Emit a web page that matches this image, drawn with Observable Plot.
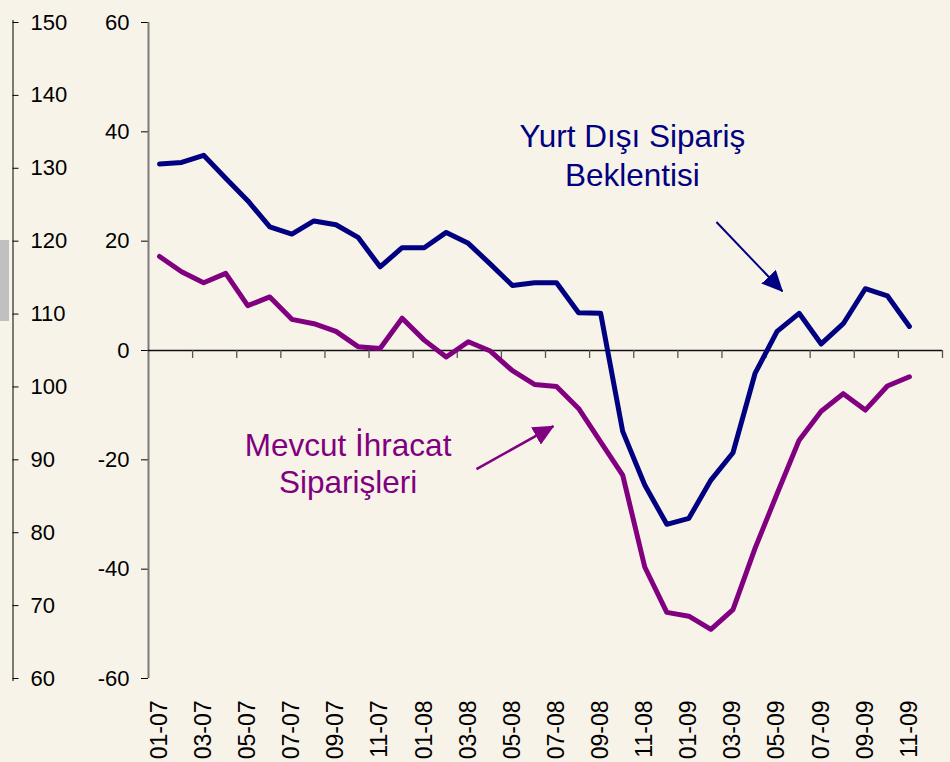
<!DOCTYPE html>
<html>
<head>
<meta charset="utf-8">
<script src="https://cdn.jsdelivr.net/npm/d3@7"></script>
<script src="https://cdn.jsdelivr.net/npm/@observablehq/plot@0.6"></script>
<style>
html, body { margin: 0; padding: 0; background: #f8f3e8; }
#wrap { position: relative; width: 950px; height: 762px; background: #f8f3e8; }
#grayTab { position: absolute; left: 0; top: 240px; width: 9px; height: 81px; background: #c0c0c0; }
#chart svg { display: block; }
</style>
</head>
<body>
<div id="wrap"><div id="grayTab"></div><div id="chart"></div></div>
<script>
// ---- data ----
const months = [
  "01-07","02-07","03-07","04-07","05-07","06-07","07-07","08-07","09-07","10-07","11-07","12-07",
  "01-08","02-08","03-08","04-08","05-08","06-08","07-08","08-08","09-08","10-08","11-08","12-08",
  "01-09","02-09","03-09","04-09","05-09","06-09","07-09","08-09","09-09","10-09","11-09","12-09"
];
const yurtDisiSiparisBeklentisi = [
  34.1, 34.4, 35.7, 31.5, 27.4, 22.6, 21.3, 23.7, 23.0, 20.7, 15.3, 18.8,
  18.8, 21.6, 19.6, 15.8, 11.9, 12.4, 12.4, 6.9, 6.8, -14.8, -24.6, -31.8,
  -30.7, -23.7, -18.7, -4.2, 3.5, 6.8, 1.2, 4.9, 11.3, 10.0, 4.4
];
const mevcutIhracatSiparisleri = [
  17.2, 14.4, 12.4, 14.1, 8.2, 9.8, 5.7, 4.9, 3.5, 0.7, 0.35, 5.9,
  1.9, -1.2, 1.6, -0.1, -3.7, -6.2, -6.6, -10.6, -16.7, -22.8, -39.6, -47.9,
  -48.6, -51.0, -47.4, -36.2, -26.2, -16.4, -11.1, -7.9, -10.9, -6.5, -4.8
];
const innerTicks = [-60, -40, -20, 0, 20, 40, 60];
const outerTicks = [60, 70, 80, 90, 100, 110, 120, 130, 140, 150];
const labelIndex = d3.range(0, months.length, 2);          // every second month labelled
const tickBoundaries = d3.range(1.5, months.length, 2);    // tick marks between category pairs

// annotations (data coordinates: month index, value)
const noteYurt = {text: "Yurt Dışı Sipariş\nBeklentisi", x: 21.44, y: 36.0};
const noteMevcut = {text: "Mevcut İhracat\nSiparişleri", x: 8.55, y: -20.5};
const arrowYurt = {x1: 25.25, y1: 23.5, x2: 28.24, y2: 10.85};
const arrowMevcut = {x1: 14.37, y1: -21.7, x2: 17.86, y2: -13.85};

// ---- build ----
const data = yurtDisiSiparisBeklentisi.map((v, i) => ({
  i, month: months[i], yurt: v, mevcut: mevcutIhracatSiparisleri[i]
}));
const xDomain = [-0.5, months.length - 0.5];
// outer (left-most) scale 60..150 drawn against the inner -60..60 scale
const toInner = v => (v - 105) * 4 / 3;
const toOuter = u => String(Math.round(u * 3 / 4 + 105));

function filledArrow(color) {
  const ns = "http://www.w3.org/2000/svg";
  const m = document.createElementNS(ns, "marker");
  m.setAttribute("viewBox", "-20 -10 21 20");
  m.setAttribute("markerWidth", 21);
  m.setAttribute("markerHeight", 20);
  m.setAttribute("markerUnits", "userSpaceOnUse");
  m.setAttribute("orient", "auto");
  m.setAttribute("refX", 0);
  m.setAttribute("refY", 0);
  const p = document.createElementNS(ns, "path");
  p.setAttribute("d", "M1,0L-20,-10L-20,10Z");
  p.setAttribute("fill", color);
  p.setAttribute("stroke", "none");
  m.appendChild(p);
  return m;
}

const font = "'Liberation Sans', Arial, Helvetica, sans-serif";

const chart = Plot.plot({
  width: 950,
  height: 762,
  marginLeft: 148,
  marginRight: 8,
  marginTop: 22,
  marginBottom: 84,
  style: {background: "transparent", fontFamily: font, fontSize: "22px", color: "#000", overflow: "visible"},
  x: {type: "linear", domain: xDomain, axis: null, label: null},
  y: {domain: [-60, 60], axis: null, label: null},
  marks: [
    // outer axis (60..150)
    Plot.ruleX([xDomain[0]], {dx: -135.5, stroke: "#000", strokeWidth: 1, insetTop: -2, insetBottom: -3}),
    Plot.axisY(outerTicks.map(toInner), {
      anchor: "left", dx: -135.5, tickSize: -6, tickPadding: -11.5, textAnchor: "start",
      tickFormat: toOuter, fontSize: 22, label: null, stroke: "#000", fill: "#000"
    }),
    // inner axis (-60..60)
    Plot.axisY(innerTicks, {anchor: "left", tickSize: 7, tickPadding: 12, fontSize: 22, label: null,
      tickFormat: d => String(d), stroke: "#000", fill: "#000"}),
    Plot.ruleX([xDomain[0]], {stroke: "#7a7a7a", strokeWidth: 2}),
    // zero line with category ticks
    Plot.ruleY([0], {stroke: "#111", strokeWidth: 1.4}),
    Plot.ruleX(tickBoundaries, {y1: 0, y2: 0, insetBottom: -8, stroke: "#555", strokeWidth: 1.3}),
    // month labels
    Plot.axisX(labelIndex, {
      anchor: "bottom", tickSize: 0, tickRotate: -90, tickPadding: 22,
      textAnchor: "end", lineAnchor: "middle",
      tickFormat: i => months[i], fontSize: 23, label: null, fill: "#000"
    }),
    // series
    Plot.line(data, {x: "i", y: "mevcut", stroke: "#800080", strokeWidth: 5, strokeLinejoin: "round", strokeLinecap: "round"}),
    Plot.line(data, {x: "i", y: "yurt", stroke: "#000080", strokeWidth: 5, strokeLinejoin: "round", strokeLinecap: "round"}),
    // annotations
    Plot.link([arrowYurt], {x1: "x1", y1: "y1", x2: "x2", y2: "y2", stroke: "#000080", strokeWidth: 2, markerEnd: filledArrow}),
    Plot.link([arrowMevcut], {x1: "x1", y1: "y1", x2: "x2", y2: "y2", stroke: "#800080", strokeWidth: 2.5, markerEnd: filledArrow}),
    Plot.text([noteYurt], {x: "x", y: "y", text: "text", fill: "#000080", fontSize: 31.5, lineHeight: 1.24, textAnchor: "middle", lineAnchor: "middle"}),
    Plot.text([noteMevcut], {x: "x", y: "y", text: "text", fill: "#800080", fontSize: 31.5, lineHeight: 1.18, textAnchor: "middle", lineAnchor: "middle"})
  ]
});
document.getElementById("chart").appendChild(chart);
</script>
</body>
</html>
